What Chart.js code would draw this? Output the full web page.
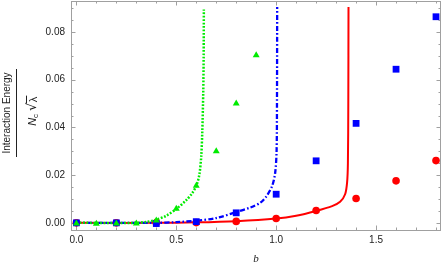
<!DOCTYPE html>
<html lang="en">
  <head>
    <meta charset="UTF-8" />
    <title>Interaction Energy vs b</title>
    <script src="https://cdn.jsdelivr.net/npm/chart.js@4"></script>
    <style>
      body { margin: 0; background: #fff; }
      #wrap { width: 443px; height: 266px; position: relative; }
    </style>
  </head>
  <body>
    <div id="wrap"><canvas id="energyChart"></canvas></div>

    <script>
      // axis ticks and labels
      const xTicks = [0, 0.5, 1.0, 1.5];
      const xTickLabels = ["0.0", "0.5", "1.0", "1.5"];
      const yTicks = [0, 0.02, 0.04, 0.06, 0.08];
      const yTickLabels = ["0.00", "0.02", "0.04", "0.06", "0.08"];
      const yTitleTop = "Interaction Energy";

      // marker data
      const redB = [0, 0.2, 0.4, 0.6, 0.8, 1.0, 1.2, 1.4, 1.6, 1.8];
      const redE = [0, 0, 0, 0.0001, 0.0006, 0.0018, 0.0052, 0.0102, 0.0176, 0.0261];
      const blueB = [0, 0.2, 0.4, 0.6, 0.8, 1.0, 1.2, 1.4, 1.6, 1.8];
      const blueE = [0, 0, -0.0003, 0.0005, 0.0042, 0.012, 0.026, 0.0417, 0.0644, 0.0864];
      const greenB = [0, 0.1, 0.2, 0.3, 0.4, 0.5, 0.6, 0.7, 0.8, 0.9];
      const greenE = [-0.0003, -0.0004, -0.0003, -0.0003, 0.001, 0.0059, 0.0156, 0.03, 0.05, 0.0703];

      // curve samples
      const redCurveB = [0, 0.4, 0.6, 0.8, 1.0, 1.1, 1.2, 1.28, 1.32, 1.345, 1.355, 1.359, 1.361, 1.362];
      const redCurveE = [0, 0, 0.0002, 0.0007, 0.0018, 0.003, 0.005, 0.007, 0.0088, 0.012, 0.017, 0.025, 0.05, 0.0905];
      const blueCurveB = [0, 0.4, 0.5, 0.6, 0.7, 0.8, 0.87, 0.92, 0.95, 0.98, 0.995, 1.002, 1.004, 1.005];
      const blueCurveE = [0, 0, 0.0003, 0.0009, 0.002, 0.0045, 0.0064, 0.0084, 0.011, 0.0155, 0.021, 0.03, 0.05, 0.0905];
      const greenCurveB = [0, 0.3, 0.35, 0.4, 0.45, 0.5, 0.55, 0.58, 0.6, 0.615, 0.625, 0.63, 0.635, 0.637, 0.638];
      const greenCurveE = [0, 0, 0.0004, 0.0013, 0.003, 0.0058, 0.0095, 0.0125, 0.0155, 0.02, 0.028, 0.038, 0.055, 0.07, 0.0894];

      const RED = "#ff0000";
      const BLUE = "#0000ff";
      const GREEN = "rgb(0, 235, 0)";
      const FRAME = "#a0a0a0";

      const pts = (xs, ys) => xs.map((x, i) => ({ x: x, y: ys[i] }));

      // frame with inward ticks on all four sides (Mathematica style)
      const framePlugin = {
        id: "frameTicks",
        beforeDatasetsDraw(chart) {
          const { ctx, chartArea: a, scales } = chart;
          const xs = scales.x, ys = scales.y;
          ctx.save();
          ctx.strokeStyle = FRAME;
          ctx.lineWidth = 1;
          ctx.strokeRect(a.left + 0.5, a.top + 0.5, a.right - a.left - 1, a.bottom - a.top);
          ctx.beginPath();
          for (let i = 0; i <= 18; i++) {
            const v = i / 10;
            const px = Math.round(xs.getPixelForValue(v)) + 0.5;
            const len = i % 5 === 0 ? 4.5 : 2.5;
            ctx.moveTo(px, a.bottom); ctx.lineTo(px, a.bottom - len);
            ctx.moveTo(px, a.top); ctx.lineTo(px, a.top + len);
          }
          for (let i = 0; i <= 18; i++) {
            const v = i * 0.005;
            const py = Math.round(ys.getPixelForValue(v)) + 0.5;
            const len = i % 4 === 0 ? 4.5 : 2.5;
            ctx.moveTo(a.left, py); ctx.lineTo(a.left + len, py);
            ctx.moveTo(a.right, py); ctx.lineTo(a.right - len, py);
          }
          ctx.stroke();
          ctx.restore();
        },
        afterDraw(chart) {
          // y-axis title as a fraction: Interaction Energy / (N_c sqrt(lambda))
          const ctx = chart.ctx;
          ctx.save();
          ctx.fillStyle = "#222";
          ctx.textBaseline = "middle";
          ctx.textAlign = "center";

          ctx.save();
          ctx.translate(7, 113);
          ctx.rotate(-Math.PI / 2);
          ctx.font = '10px "Liberation Sans", Arial, sans-serif';
          ctx.fillText(yTitleTop, 0, 0);
          ctx.restore();

          ctx.strokeStyle = "#222";
          ctx.lineWidth = 1;
          ctx.beginPath();
          ctx.moveTo(16.5, 69);
          ctx.lineTo(16.5, 157);
          ctx.stroke();

          ctx.save();
          ctx.translate(33, 111);
          ctx.rotate(-Math.PI / 2);
          ctx.textAlign = "left";
          const fN = 'italic 11px "Liberation Sans", Arial, sans-serif';
          const fc = '8px "Liberation Sans", Arial, sans-serif';
          const fR = '13px "DejaVu Sans", sans-serif';
          const fL = '11px "Liberation Sans", Arial, sans-serif';
          ctx.font = fN; const wN = ctx.measureText("N").width;
          ctx.font = fc; const wc = ctx.measureText("c").width;
          ctx.font = fR; const wR = ctx.measureText("\u221A").width;
          ctx.font = fL; const wL = ctx.measureText("\u03BB").width;
          const gap = 3;
          const total = wN + wc + gap + wR + wL + 1;
          let x = -total / 2;
          ctx.font = fN; ctx.fillText("N", x, 0); x += wN;
          ctx.font = fc; ctx.fillText("c", x, 2.5); x += wc + gap;
          ctx.font = fR; ctx.fillText("\u221A", x, -0.5); x += wR;
          ctx.font = fL; ctx.fillText("\u03BB", x + 0.5, 0.5);
          ctx.beginPath();
          ctx.moveTo(x - 1, -6.5);
          ctx.lineTo(x + wL + 1.5, -6.5);
          ctx.stroke();
          ctx.restore();

          ctx.restore();
        },
      };

      const tickFont = { family: '"Liberation Sans", Arial, sans-serif', size: 10 };

      new Chart(document.getElementById("energyChart").getContext("2d"), {
        type: "scatter",
        data: {
          datasets: [
            {
              label: "green markers",
              data: pts(greenB, greenE),
              pointStyle: "triangle",
              pointRadius: 4,
              pointBackgroundColor: GREEN,
              pointBorderWidth: 0,
              order: 0,
            },
            {
              label: "blue markers",
              data: pts(blueB, blueE),
              pointStyle: "rect",
              pointRadius: 4.8,
              pointBackgroundColor: BLUE,
              pointBorderWidth: 0,
              order: 1,
            },
            {
              label: "red markers",
              data: pts(redB, redE),
              pointStyle: "circle",
              pointRadius: 3.8,
              pointBackgroundColor: RED,
              pointBorderWidth: 0,
              order: 2,
            },
            {
              label: "green curve",
              data: pts(greenCurveB, greenCurveE),
              showLine: true,
              pointRadius: 0,
              borderColor: GREEN,
              borderWidth: 2.5,
              borderDash: [1.8, 1.6],
              tension: 0.3,
              order: 3,
            },
            {
              label: "blue curve",
              data: pts(blueCurveB, blueCurveE),
              showLine: true,
              pointRadius: 0,
              borderColor: BLUE,
              borderWidth: 2.3,
              borderDash: [5, 2.2, 1.6, 2.2],
              tension: 0.3,
              order: 4,
            },
            {
              label: "red curve",
              data: pts(redCurveB, redCurveE),
              showLine: true,
              pointRadius: 0,
              borderColor: RED,
              borderWidth: 2,
              tension: 0.3,
              order: 5,
            },
          ],
        },
        options: {
          responsive: true,
          maintainAspectRatio: false,
          animation: false,
          layout: { autoPadding: false, padding: { left: 0, right: 2, top: 1, bottom: 0 } },
          plugins: { legend: { display: false }, tooltip: { enabled: false } },
          scales: {
            x: {
              type: "linear",
              min: -0.027,
              max: 1.825,
              afterBuildTicks: (s) => { s.ticks = xTicks.map((v) => ({ value: v })); },
              afterFit: (s) => {
                s.height = 36;
                s.paddingLeft = 0;
                s.paddingRight = 0;
              },
              grid: { display: false, drawTicks: false },
              border: { display: false },
              ticks: {
                font: tickFont,
                color: "#222",
                padding: 4,
                maxRotation: 0,
                callback: (v) => xTickLabels[xTicks.indexOf(v)],
              },
              title: {
                display: true,
                text: "b",
                color: "#222",
                font: { family: '"Liberation Serif", serif', size: 11, style: "italic" },
                padding: { top: 0, bottom: 0 },
              },
            },
            y: {
              type: "linear",
              min: -0.003,
              max: 0.093,
              afterBuildTicks: (s) => { s.ticks = yTicks.map((v) => ({ value: v })); },
              afterFit: (s) => {
                s.width = 71;
                s.paddingTop = 0;
                s.paddingBottom = 0;
              },
              grid: { display: false, drawTicks: false },
              border: { display: false },
              ticks: {
                font: tickFont,
                color: "#222",
                padding: 6,
                callback: (v) => yTickLabels[yTicks.indexOf(v)],
              },
            },
          },
        },
        plugins: [framePlugin],
      });
    </script>
  </body>
</html>
